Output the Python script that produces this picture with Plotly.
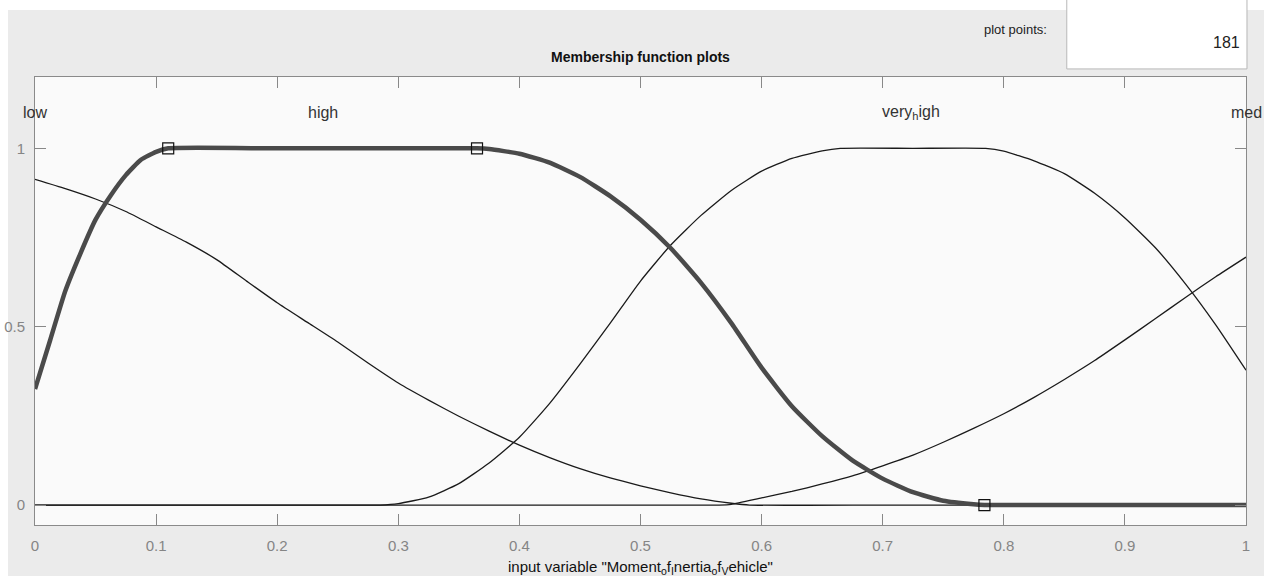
import plotly.graph_objects as go

# ---- data ----
low_x = [0, 0.025, 0.05, 0.075, 0.1, 0.125, 0.15, 0.175, 0.2, 0.225, 0.25, 0.275, 0.3, 0.325,
         0.35, 0.375, 0.4, 0.425, 0.45, 0.475, 0.5, 0.525, 0.55, 0.575, 0.59, 0.7, 0.8, 0.9, 1.0]
low_y = [0.913, 0.887, 0.858, 0.823, 0.780, 0.737, 0.688, 0.627, 0.567, 0.512, 0.457, 0.398,
         0.342, 0.294, 0.249, 0.207, 0.168, 0.133, 0.102, 0.076, 0.054, 0.034, 0.017, 0.005, 0,
         0, 0, 0, 0]

high_x = [0, 0.0125, 0.025, 0.0375, 0.05, 0.0625, 0.075, 0.0875, 0.1, 0.11, 0.2, 0.3, 0.365,
          0.375, 0.4, 0.425, 0.45, 0.475, 0.5, 0.525, 0.55, 0.575, 0.6, 0.625, 0.65, 0.675, 0.7,
          0.725, 0.75, 0.775, 0.784, 0.85, 0.925, 1.0]
high_y = [0.325, 0.462, 0.600, 0.705, 0.800, 0.868, 0.925, 0.968, 0.990, 1.0, 1.0, 1.0, 1.0,
          0.998, 0.985, 0.960, 0.920, 0.866, 0.800, 0.720, 0.623, 0.510, 0.385, 0.277, 0.193,
          0.125, 0.074, 0.036, 0.012, 0.002, 0, 0, 0, 0]

vhigh_x = [0, 0.1, 0.2, 0.285, 0.3, 0.325, 0.35, 0.375, 0.4, 0.425, 0.45, 0.475, 0.5, 0.525,
           0.55, 0.575, 0.6, 0.625, 0.65, 0.665, 0.725, 0.785, 0.8, 0.825, 0.85, 0.875, 0.9,
           0.925, 0.95, 0.975, 1.0]
vhigh_y = [0, 0, 0, 0, 0.004, 0.022, 0.060, 0.118, 0.190, 0.285, 0.395, 0.510, 0.628, 0.729,
           0.812, 0.882, 0.936, 0.972, 0.993, 1.0, 1.0, 1.0, 0.992, 0.965, 0.929, 0.874, 0.805,
           0.722, 0.620, 0.505, 0.378]

med_x = [0, 0.1, 0.2, 0.3, 0.4, 0.5, 0.565, 0.575, 0.6, 0.625, 0.65, 0.675, 0.7, 0.725, 0.75,
         0.775, 0.8, 0.825, 0.85, 0.875, 0.9, 0.925, 0.95, 0.975, 1.0]
med_y = [0, 0, 0, 0, 0, 0, 0, 0.002, 0.020, 0.038, 0.059, 0.082, 0.110, 0.140, 0.176, 0.215,
         0.256, 0.302, 0.352, 0.405, 0.463, 0.522, 0.582, 0.640, 0.695]

handle_x = [0.11, 0.365, 0.784]
handle_y = [1, 1, 0]

mf_names = ["low", "high", "very<sub>h</sub>igh", "med"]
mf_label_x = [0.0, 0.238, 0.723, 1.0]

x_ticks = [0, 0.1, 0.2, 0.3, 0.4, 0.5, 0.6, 0.7, 0.8, 0.9, 1]
y_ticks = [0, 0.5, 1]

FONT = "Liberation Sans, Arial, sans-serif"

fig = go.Figure()
thin = dict(color="#1a1a1a", width=1.3, shape="spline", smoothing=0.5)
fig.add_trace(go.Scatter(x=low_x, y=low_y, mode="lines", line=thin, hoverinfo="skip"))
fig.add_trace(go.Scatter(x=vhigh_x, y=vhigh_y, mode="lines", line=thin, hoverinfo="skip"))
fig.add_trace(go.Scatter(x=med_x, y=med_y, mode="lines", line=thin, hoverinfo="skip"))
fig.add_trace(go.Scatter(x=high_x, y=high_y, mode="lines",
                         line=dict(color="#4a4a4a", width=4.5, shape="spline", smoothing=0.5),
                         hoverinfo="skip"))
fig.add_trace(go.Scatter(x=handle_x, y=handle_y, mode="markers",
                         marker=dict(symbol="square-open", size=11, color="#111",
                                     line=dict(width=1.2, color="#111")),
                         hoverinfo="skip"))

for name, lx in zip(mf_names, mf_label_x):
    fig.add_annotation(x=lx, y=1.10, xref="x", yref="y", text=name, showarrow=False,
                       font=dict(family=FONT, size=16, color="#333"), xanchor="center",
                       yanchor="middle")

# title and extra texts
fig.add_annotation(x=0.5004, y=1.045, xref="paper", yref="paper",
                   text="<b>Membership function plots</b>", showarrow=False,
                   font=dict(family=FONT, size=14, color="#111"), xanchor="center", yanchor="middle")
fig.add_annotation(x=0.810, y=1.105, xref="paper", yref="paper", text="plot points:",
                   showarrow=False, font=dict(family=FONT, size=13, color="#222"),
                   xanchor="center", yanchor="middle")
fig.add_annotation(x=0.9967, y=1.076, xref="paper", yref="paper", text="181",
                   showarrow=False, font=dict(family=FONT, size=16, color="#222"),
                   xanchor="right", yanchor="middle")
fig.add_annotation(x=0.5, y=-0.094, xref="paper", yref="paper",
                   text='input variable "Moment<sub>o</sub>f<sub>I</sub>nertia<sub>o</sub>f<sub>V</sub>ehicle"',
                   showarrow=False, font=dict(family=FONT, size=15, color="#111"),
                   xanchor="center", yanchor="middle")

# white strips & plot points box
fig.add_shape(type="rect", xref="paper", yref="paper", x0=-0.03, x1=1.02, y0=1.1496, y1=1.18,
              fillcolor="white", line=dict(width=0), layer="below")
fig.add_shape(type="rect", xref="paper", yref="paper", x0=-0.03, x1=-0.0223, y0=-0.12, y1=1.18,
              fillcolor="white", line=dict(width=0), layer="below")
fig.add_shape(type="rect", xref="paper", yref="paper", x0=0.852, x1=1.0008, y0=1.018, y1=1.18,
              fillcolor="white", line=dict(width=1, color="#b8b8b8"), layer="below")

fig.update_layout(
    width=1264, height=576,
    margin=dict(l=35, r=18, t=77, b=51),
    paper_bgcolor="#ebebeb", plot_bgcolor="#fafafa",
    showlegend=False,
    font=dict(family=FONT),
)
fig.update_xaxes(range=[0, 1], tickvals=x_ticks, ticktext=[f"{v:g}" for v in x_ticks],
                 ticks="inside", ticklen=11, tickcolor="#888", showline=True, linecolor="#8a8a8a",
                 linewidth=1, mirror="ticks", showgrid=False, zeroline=False, automargin=False,
                 tickfont=dict(family=FONT, size=15, color="#858585"), ticklabelstandoff=7)
fig.update_yaxes(range=[-0.056, 1.2], tickvals=y_ticks, ticktext=["0", "0.5", "1"],
                 ticks="inside", ticklen=11, tickcolor="#888", showline=True, linecolor="#8a8a8a",
                 linewidth=1, mirror="ticks", showgrid=False, zeroline=False, automargin=False,
                 tickfont=dict(family=FONT, size=15, color="#858585"), ticklabelstandoff=6)

fig.write_html("out.html")
